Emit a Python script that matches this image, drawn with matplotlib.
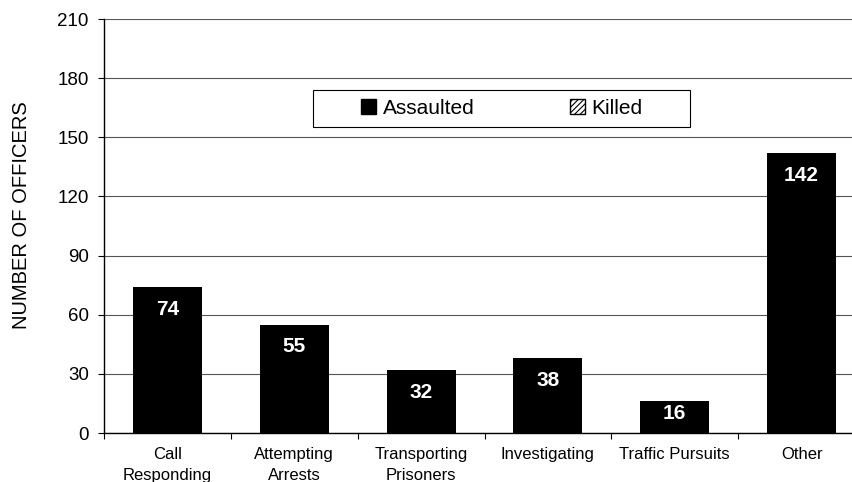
import matplotlib
matplotlib.use("Agg")
import matplotlib.pyplot as plt
from matplotlib.patches import Patch, Rectangle
import numpy as np

categories = ["Call\nResponding", "Attempting\nArrests", "Transporting\nPrisoners",
              "Investigating", "Traffic Pursuits", "Other"]
assaulted = [74, 55, 32, 38, 16, 142]
killed = [0, 0, 0, 0, 0, 0]
yticks = [0, 30, 60, 90, 120, 150, 180, 210]

plt.rcParams['font.family'] = ['Liberation Sans', 'DejaVu Sans']
plt.rcParams['hatch.linewidth'] = 0.8

fig = plt.figure(figsize=(8.52, 4.82), dpi=100)
ax = fig.add_axes([104/852, 1-433/482, 761/852, 414/482])

x = np.arange(len(categories))
ax.bar(x, assaulted, width=0.545, color='black', zorder=3)
ax.bar(x, killed, width=0.545, color='white', hatch='////', edgecolor='black',
       linewidth=0, zorder=3)

for xi, v in zip(x, assaulted):
    ax.text(xi, v - min(11.3, v * 0.37), str(v), ha='center', va='center',
            color='white', fontsize=15, fontweight='bold', zorder=4)

ax.set_xlim(-0.5, len(categories) - 0.5)
ax.set_ylim(0, 210)
ax.set_yticks(yticks)
ax.set_yticklabels([str(t) for t in yticks], fontsize=13.5)
ax.yaxis.grid(True, color='#555555', linewidth=0.8, zorder=0)
ax.tick_params(axis='y', direction='out', length=4, width=0.8, pad=7)

ax.set_xticks(x)
ax.set_xticklabels(categories, fontsize=12, linespacing=1.55)
ax.tick_params(axis='x', which='major', length=0, pad=10)
ax.set_xticks(np.arange(-0.5, len(categories) + 0.5, 1), minor=True)
ax.tick_params(axis='x', which='minor', direction='out', length=4, width=0.8)

for s in ['top', 'right']:
    ax.spines[s].set_visible(False)
ax.spines['left'].set_linewidth(1.0)
ax.spines['bottom'].set_linewidth(1.0)

ax.set_ylabel("NUMBER OF OFFICERS", fontsize=14.5)
ax.yaxis.set_label_coords((31 - 104) / 761, (433 - 215) / 414)

ax.add_patch(Rectangle((0.2746, 0.739), 0.4954, 0.0894, transform=ax.transAxes,
                       facecolor='white', edgecolor='black', linewidth=0.8, zorder=5))
handles = [Patch(facecolor='black', edgecolor='black', label='Assaulted'),
           Patch(facecolor='white', edgecolor='black', hatch='//////', label='Killed')]
leg = ax.legend(handles=handles, ncol=2, loc='center',
                bbox_to_anchor=(0.523, 0.785), fontsize=15, frameon=False,
                handlelength=0.72, handleheight=0.72, handletextpad=0.3,
                columnspacing=4.6, borderpad=0.2)
leg.set_zorder(6)

fig.savefig("out.png", dpi=100)
